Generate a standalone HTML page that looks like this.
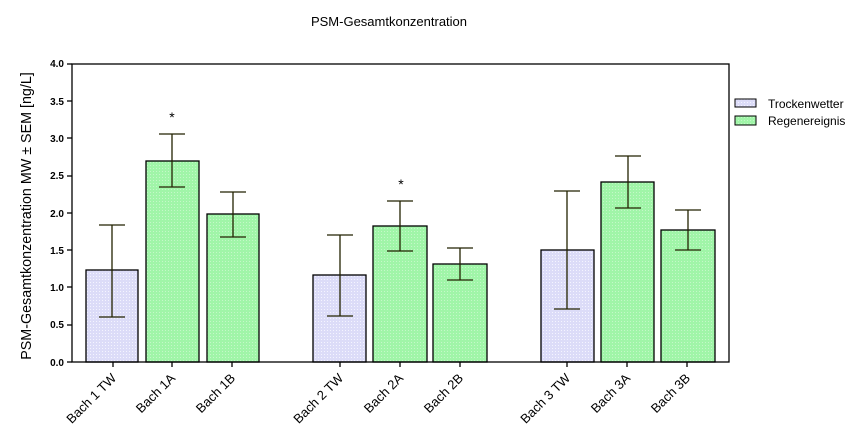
<!DOCTYPE html>
<html><head><meta charset="utf-8"><style>
body{margin:0;background:#fff}
svg{display:block;font-family:"Liberation Sans",sans-serif}
</style></head><body>
<svg width="866" height="439" viewBox="0 0 866 439">
<defs>
<pattern id="pb" width="3" height="3" patternUnits="userSpaceOnUse"><rect width="3" height="3" fill="#dcdcf8"/><rect width="1" height="1" fill="#f4f4ff"/></pattern>
<pattern id="pg" width="3" height="3" patternUnits="userSpaceOnUse"><rect width="3" height="3" fill="#a0f5a8"/><rect width="1" height="1" fill="#c4f8c8"/></pattern>
</defs>
<text x="389" y="26" font-size="13" text-anchor="middle">PSM-Gesamtkonzentration</text>
<text transform="translate(31,216) rotate(-90)" font-size="14.3" text-anchor="middle">PSM-Gesamtkonzentration MW ± SEM [ng/L]</text>
<g font-size="10" font-weight="bold" text-anchor="end">
<text x="64" y="366">0.0</text><text x="64" y="328">0.5</text><text x="64" y="291">1.0</text><text x="64" y="254">1.5</text><text x="64" y="217">2.0</text><text x="64" y="179">2.5</text><text x="64" y="142">3.0</text><text x="64" y="105">3.5</text><text x="64" y="67">4.0</text>
</g>
<g stroke="#000" stroke-width="1.3">
<line x1="67" y1="362" x2="72" y2="362"/><line x1="67" y1="325" x2="72" y2="325"/><line x1="67" y1="287" x2="72" y2="287"/><line x1="67" y1="250" x2="72" y2="250"/><line x1="67" y1="213" x2="72" y2="213"/><line x1="67" y1="176" x2="72" y2="176"/><line x1="67" y1="138" x2="72" y2="138"/><line x1="67" y1="101" x2="72" y2="101"/><line x1="67" y1="64" x2="72" y2="64"/>
</g>
<g stroke="#000" stroke-width="1.3">
<rect x="86" y="270" width="52" height="92" fill="url(#pb)"/>
<rect x="146" y="161" width="53" height="201" fill="url(#pg)"/>
<rect x="207" y="214" width="52" height="148" fill="url(#pg)"/>
<rect x="313" y="275" width="53" height="87" fill="url(#pb)"/>
<rect x="373" y="226" width="54" height="136" fill="url(#pg)"/>
<rect x="433" y="264" width="54" height="98" fill="url(#pg)"/>
<rect x="541" y="250" width="53" height="112" fill="url(#pb)"/>
<rect x="601" y="182" width="53" height="180" fill="url(#pg)"/>
<rect x="661" y="230" width="54" height="132" fill="url(#pg)"/>
</g>
<g stroke="#222200" stroke-width="1.3" fill="none">
<path d="M112 317V225M99 317h26M99 225h26"/>
<path d="M172 187V134M159 187h26M159 134h26"/>
<path d="M233 237V192M220 237h26M220 192h26"/>
<path d="M340 316V235M327 316h26M327 235h26"/>
<path d="M400 251V201M387 251h26M387 201h26"/>
<path d="M460 280V248M447 280h26M447 248h26"/>
<path d="M567 309V191M554 309h26M554 191h26"/>
<path d="M628 208V156M615 208h26M615 156h26"/>
<path d="M688 250V210M675 250h26M675 210h26"/>
</g>
<text x="172" y="122" font-size="14" text-anchor="middle">*</text>
<text x="401" y="189" font-size="14" text-anchor="middle">*</text>
<rect x="72" y="64" width="657" height="298" fill="none" stroke="#000" stroke-width="1.3"/>
<g stroke="#000" stroke-width="1.3">
<line x1="113" y1="362" x2="113" y2="367"/><line x1="172" y1="362" x2="172" y2="367"/><line x1="232" y1="362" x2="232" y2="367"/>
<line x1="340" y1="362" x2="340" y2="367"/><line x1="400" y1="362" x2="400" y2="367"/><line x1="460" y1="362" x2="460" y2="367"/>
<line x1="567" y1="362" x2="567" y2="367"/><line x1="627" y1="362" x2="627" y2="367"/><line x1="687" y1="362" x2="687" y2="367"/>
</g>
<g font-size="13" text-anchor="end">
<text transform="translate(117,379) rotate(-45)">Bach 1 TW</text>
<text transform="translate(176,379) rotate(-45)">Bach 1A</text>
<text transform="translate(236,379) rotate(-45)">Bach 1B</text>
<text transform="translate(344,379) rotate(-45)">Bach 2 TW</text>
<text transform="translate(404,379) rotate(-45)">Bach 2A</text>
<text transform="translate(464,379) rotate(-45)">Bach 2B</text>
<text transform="translate(571,379) rotate(-45)">Bach 3 TW</text>
<text transform="translate(631,379) rotate(-45)">Bach 3A</text>
<text transform="translate(691,379) rotate(-45)">Bach 3B</text>
</g>
<rect x="735" y="99" width="21" height="8" fill="url(#pb)" stroke="#000"/>
<rect x="735" y="116" width="21" height="9" fill="url(#pg)" stroke="#000"/>
<text x="768" y="108" font-size="12">Trockenwetter</text>
<text x="768" y="125" font-size="12">Regenereignis</text>
</svg>
</body></html>
